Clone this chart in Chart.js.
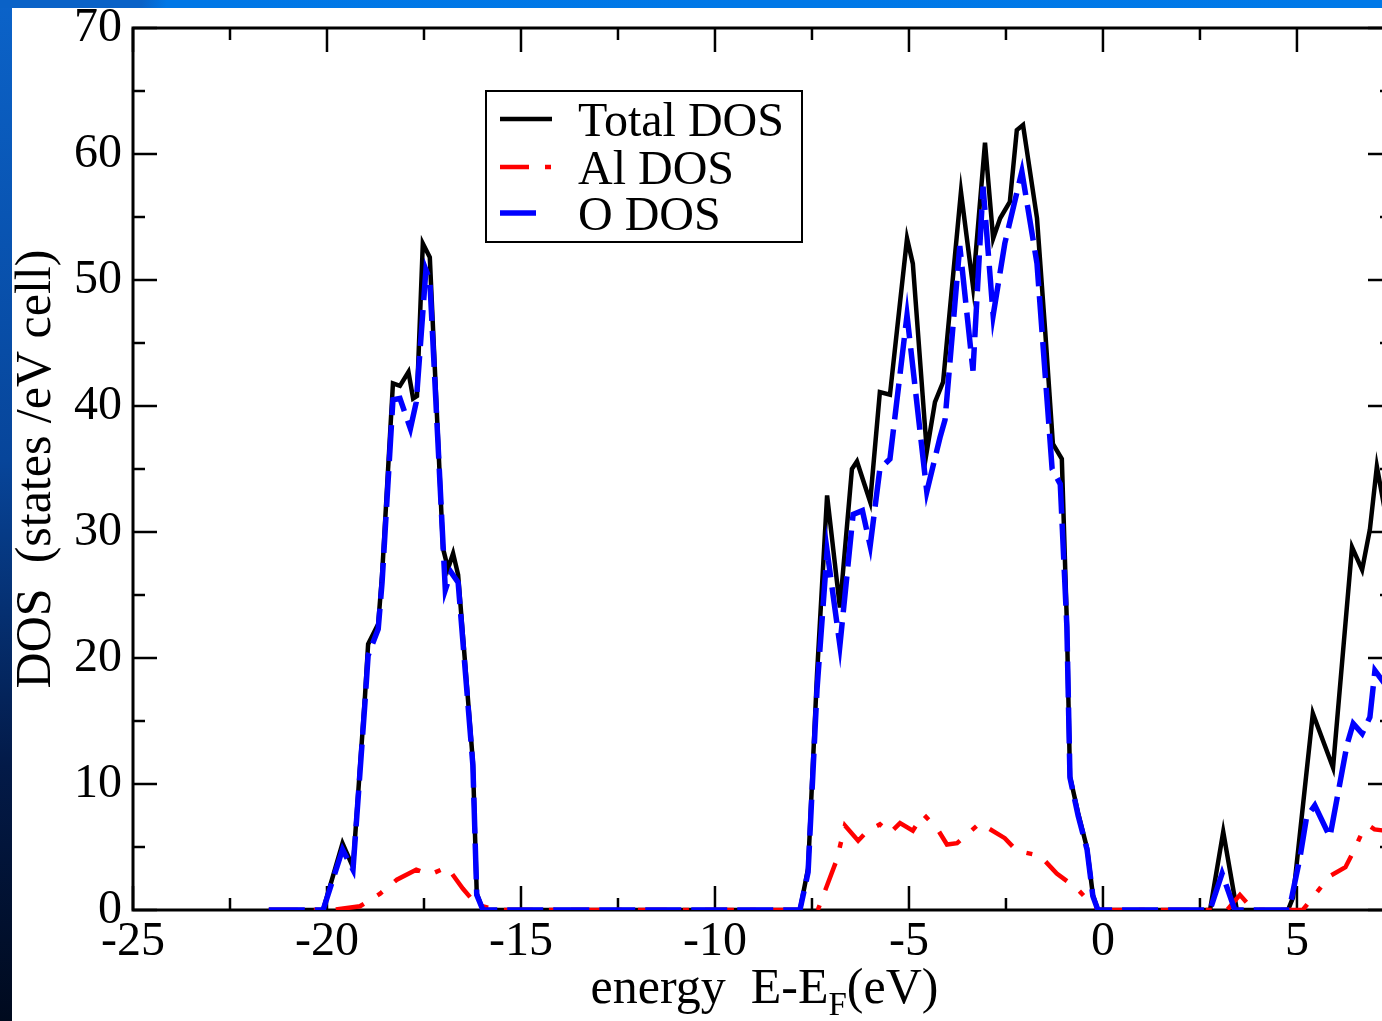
<!DOCTYPE html>
<html>
<head>
<meta charset="utf-8">
<title>DOS</title>
<script src="https://cdn.jsdelivr.net/npm/chart.js@4.4.1/dist/chart.umd.min.js"></script>
<style>
  html, body { margin: 0; padding: 0; overflow: hidden; }
  body {
    width: 1382px; height: 1021px; position: relative;
    background: linear-gradient(to bottom, #0b63c9 0%, #07459a 45%, #031a48 75%, #000a1e 100%);
  }
  #topband {
    position: absolute; left: 0; top: 0; width: 1382px; height: 8px;
    background: linear-gradient(100deg, #0a62c7 0, #0a62c7 140px, #0077e6 165px, #0079e8 100%);
  }
  #sheet { position: absolute; left: 12px; top: 8px; right: 0; bottom: 0; background: #fff; }
  #wrap { position: absolute; left: 0; top: 0; width: 1420px; height: 1021px; }
</style>
</head>
<body>
<div id="topband"></div>
<div id="sheet"></div>
<div id="wrap"><canvas id="dosChart" width="1420" height="1021"></canvas></div>
<script>
// DOS of Al2O3
const totalEnergy = [-21.5, -20.1, -19.6, -19.33, -19.02, -18.94, -18.68, -18.58, -18.3, -18.12, -17.9, -17.78, -17.68, -17.53, -17.35, -17.01, -16.88, -16.75, -16.62, -16.24, -16.14, -15.98,
    -7.81, -7.6, -7.37, -7.11, -6.78, -6.47, -6.34, -6.0, -5.75, -5.49, -5.05, -4.9, -4.54, -4.33, -4.12, -3.66, -3.35, -3.04, -2.83, -2.65, -2.4, -2.22, -2.06, -1.7, -1.49, -1.29, -1.06, -0.93, -0.85, -0.64, -0.41, -0.26, -0.13,
    2.76, 3.1, 3.45, 4.77, 4.9, 5.41, 5.93, 6.42, 6.68, 6.88, 7.06, 7.25];
const totalDos = [0, 0, 5.3, 3.4, 17, 21.1, 22.7, 26.6, 41.8, 41.6, 42.7, 40.6, 40.8, 52.9, 51.8, 28.7, 27.1, 28.3, 26.6, 11.8, 1.3, 0,
    0, 3.3, 18.7, 32.9, 24, 35, 35.6, 32.4, 41.1, 40.9, 53.3, 51.3, 36.4, 40.3, 41.9, 57, 49.5, 60.9, 53.3, 54.9, 56.2, 61.9, 62.3, 54.9, 46, 37, 35.8, 22.8, 10.6, 7.7, 4.9, 1.2, 0,
    0, 6.2, 0, 0, 1.0, 15.6, 11.3, 28.8, 27, 30.2, 35.2, 32];

const alEnergy = [-21.5, -19.85, -19.15, -18.63, -18.2, -17.7, -17.35, -16.9, -16.5, -16.14, -15.6,
    -7.35, -6.86, -6.65, -6.31, -6.06, -5.75, -5.49, -5.23, -4.9, -4.63, -4.28, -4.02, -3.76, -3.17, -2.53, -2.22, -1.62, -1.19, -0.67, -0.33, -0.1,
    3.2, 3.53, 3.87, 5.15, 5.46, 5.85, 6.25, 6.45, 6.7, 6.85, 7.0, 7.25];
const alDos = [0, 0, 0.3, 1.3, 2.4, 3.2, 2.8, 3.4, 1.7, 0.4, 0,
    0, 4, 6.7, 5.5, 6.3, 6.8, 6.1, 6.9, 6.3, 7.6, 6.5, 5.2, 5.3, 6.9, 5.7, 4.7, 4.3, 2.9, 1.7, 0.6, 0,
    0, 1.2, 0, 0, 1.2, 2.7, 3.4, 4.6, 6.3, 6.7, 6.4, 6.3];

const oEnergy = [-21.5, -20.1, -19.6, -19.33, -19.02, -18.94, -18.68, -18.58, -18.3, -18.12, -17.85, -17.7, -17.45, -17.35, -16.95, -16.8, -16.62, -16.24, -16.14, -15.98,
    -7.81, -7.6, -7.37, -7.11, -6.78, -6.44, -6.2, -6.0, -5.75, -5.49, -5.05, -4.54, -4.2, -4.07, -3.69, -3.35, -3.09, -2.83, -2.53, -2.09, -1.7, -1.31, -1.1, -0.93, -0.85, -0.64, -0.41, -0.26, -0.13,
    2.76, 3.07, 3.4, 4.8, 5.08, 5.25, 5.46, 5.85, 6.29, 6.45, 6.68, 6.88, 7.01, 7.25];
const oDos = [0, 0, 4.8, 3.2, 16.5, 20.2, 22.3, 26, 40.5, 40.6, 38.2, 40.3, 50.8, 50, 25.4, 26.8, 26, 11.5, 1.2, 0,
    0, 3, 17.5, 28.5, 21, 31.4, 31.7, 28.9, 35, 35.8, 47.2, 33.2, 37.5, 38.9, 52.7, 42.8, 57.4, 47.2, 52.9, 58.6, 51.3, 35, 33.8, 22.5, 10.5, 7.5, 4.8, 1.1, 0,
    0, 2.9, 0, 0, 4.2, 7.4, 8.3, 5.8, 13.1, 14.8, 14, 15.3, 19, 18];

const xMajorTicks = [-25, -20, -15, -10, -5, 0, 5];
const xMinorTicks = [-22.5, -17.5, -12.5, -7.5, -2.5, 2.5];
const yMajorTicks = [0, 10, 20, 30, 40, 50, 60, 70];
const yMinorTicks = [5, 15, 25, 35, 45, 55, 65];

const serif = '"Liberation Serif", "Times New Roman", serif';
const pairs = (xs, ys) => xs.map((x, i) => ({ x, y: ys[i] }));

// frame and inward ticks, drawn under the curves
const framePlugin = {
    id: 'frame',
    beforeDatasetsDraw(chart) {
        const { ctx, chartArea: a, scales: { x, y } } = chart;
        ctx.save();
        ctx.strokeStyle = '#000';
        ctx.lineWidth = 3;
        ctx.strokeRect(a.left, a.top, a.right - a.left, a.bottom - a.top);
        ctx.lineWidth = 2.5;
        const seg = (x1, y1, x2, y2) => { ctx.beginPath(); ctx.moveTo(x1, y1); ctx.lineTo(x2, y2); ctx.stroke(); };
        const xt = (vals, len) => vals.forEach(v => {
            const p = x.getPixelForValue(v);
            seg(p, a.bottom, p, a.bottom - len);
            seg(p, a.top, p, a.top + len);
        });
        const yt = (vals, len) => vals.forEach(v => {
            const p = y.getPixelForValue(v);
            seg(a.left, p, a.left + len, p);
            seg(a.right, p, a.right - len, p);
        });
        xt(xMajorTicks, 24); xt(xMinorTicks, 12);
        yt(yMajorTicks, 24); yt(yMinorTicks, 12);
        ctx.restore();
    },
    afterDraw(chart) {
        const { ctx, chartArea: a } = chart;
        ctx.save();
        ctx.fillStyle = '#000';

        // x title with subscript F
        const big = '50px ' + serif, small = '33px ' + serif;
        ctx.font = big;
        const t1 = 'energy  E-E', t3 = '(eV)';
        const w1 = ctx.measureText(t1).width, w3 = ctx.measureText(t3).width;
        ctx.font = small;
        const w2 = ctx.measureText('F').width;
        let xs = (a.left + a.right) / 2 - (w1 + w2 + w3) / 2 + 2;
        const base = 1003;
        ctx.textBaseline = 'alphabetic';
        ctx.textAlign = 'left';
        ctx.font = big; ctx.fillText(t1, xs, base);
        ctx.font = small; ctx.fillText('F', xs + w1, base + 12);
        ctx.font = big; ctx.fillText(t3, xs + w1 + w2, base);

        // y title
        ctx.translate(50, (a.top + a.bottom) / 2);
        ctx.rotate(-Math.PI / 2);
        ctx.textAlign = 'center';
        ctx.fillText('DOS  (states /eV cell)', 0, 0);
        ctx.restore();

        // legend box
        ctx.save();
        ctx.fillStyle = '#fff';
        ctx.fillRect(486, 91, 316, 151);
        ctx.strokeStyle = '#000';
        ctx.lineWidth = 2;
        ctx.strokeRect(486, 91, 316, 151);
        const rows = [119, 167, 213];
        chart.data.datasets.forEach((ds, i) => {
            const yy = rows[i];
            ctx.strokeStyle = ds.borderColor;
            ctx.lineWidth = ds.borderWidth;
            ctx.setLineDash(ds.borderDash || []);
            ctx.beginPath(); ctx.moveTo(500, yy); ctx.lineTo(ds.legendEnd, yy); ctx.stroke();
            ctx.setLineDash([]);
            ctx.fillStyle = '#000';
            ctx.font = '48px ' + serif;
            ctx.textAlign = 'left';
            ctx.textBaseline = 'alphabetic';
            ctx.fillText(ds.label, 578, yy + 17);
        });
        ctx.restore();
    }
};

new Chart(document.getElementById('dosChart'), {
    type: 'line',
    data: {
        datasets: [
            { label: 'Total DOS', data: pairs(totalEnergy, totalDos), borderColor: '#000000', borderWidth: 4.5, order: 3, legendEnd: 552 },
            { label: 'Al DOS', data: pairs(alEnergy, alDos), borderColor: '#ff0000', borderWidth: 4.5, borderDash: [29, 16, 6, 16], order: 2, legendEnd: 553 },
            { label: 'O DOS', data: pairs(oEnergy, oDos), borderColor: '#0000ff', borderWidth: 5.5, borderDash: [36, 10], order: 1, legendEnd: 541 }
        ]
    },
    options: {
        responsive: false,
        animation: false,
        elements: { point: { radius: 0 }, line: { tension: 0, fill: false, borderJoinStyle: 'miter' } },
        layout: { padding: { top: 28, right: 28, left: 0, bottom: 0 } },
        plugins: { legend: { display: false }, tooltip: { enabled: false } },
        scales: {
            x: {
                type: 'linear', min: -25, max: 7.45,
                grid: { display: false, drawTicks: false },
                border: { display: false },
                afterBuildTicks: s => { s.ticks = xMajorTicks.map(v => ({ value: v })); },
                afterFit: s => { s.height = 111; },
                ticks: { color: '#000', font: { family: serif, size: 48 }, padding: 4, maxRotation: 0, autoSkip: false, includeBounds: false, callback: v => String(v) }
            },
            y: {
                type: 'linear', min: 0, max: 70,
                grid: { display: false, drawTicks: false },
                border: { display: false },
                afterBuildTicks: s => { s.ticks = yMajorTicks.map(v => ({ value: v })); },
                afterFit: s => { s.width = 133; s.paddingTop = 0; s.paddingBottom = 0; },
                ticks: { color: '#000', font: { family: serif, size: 48, lineHeight: 0.5 }, padding: 11, autoSkip: false, callback: v => String(v) }
            }
        }
    },
    plugins: [framePlugin]
});
</script>
</body>
</html>
